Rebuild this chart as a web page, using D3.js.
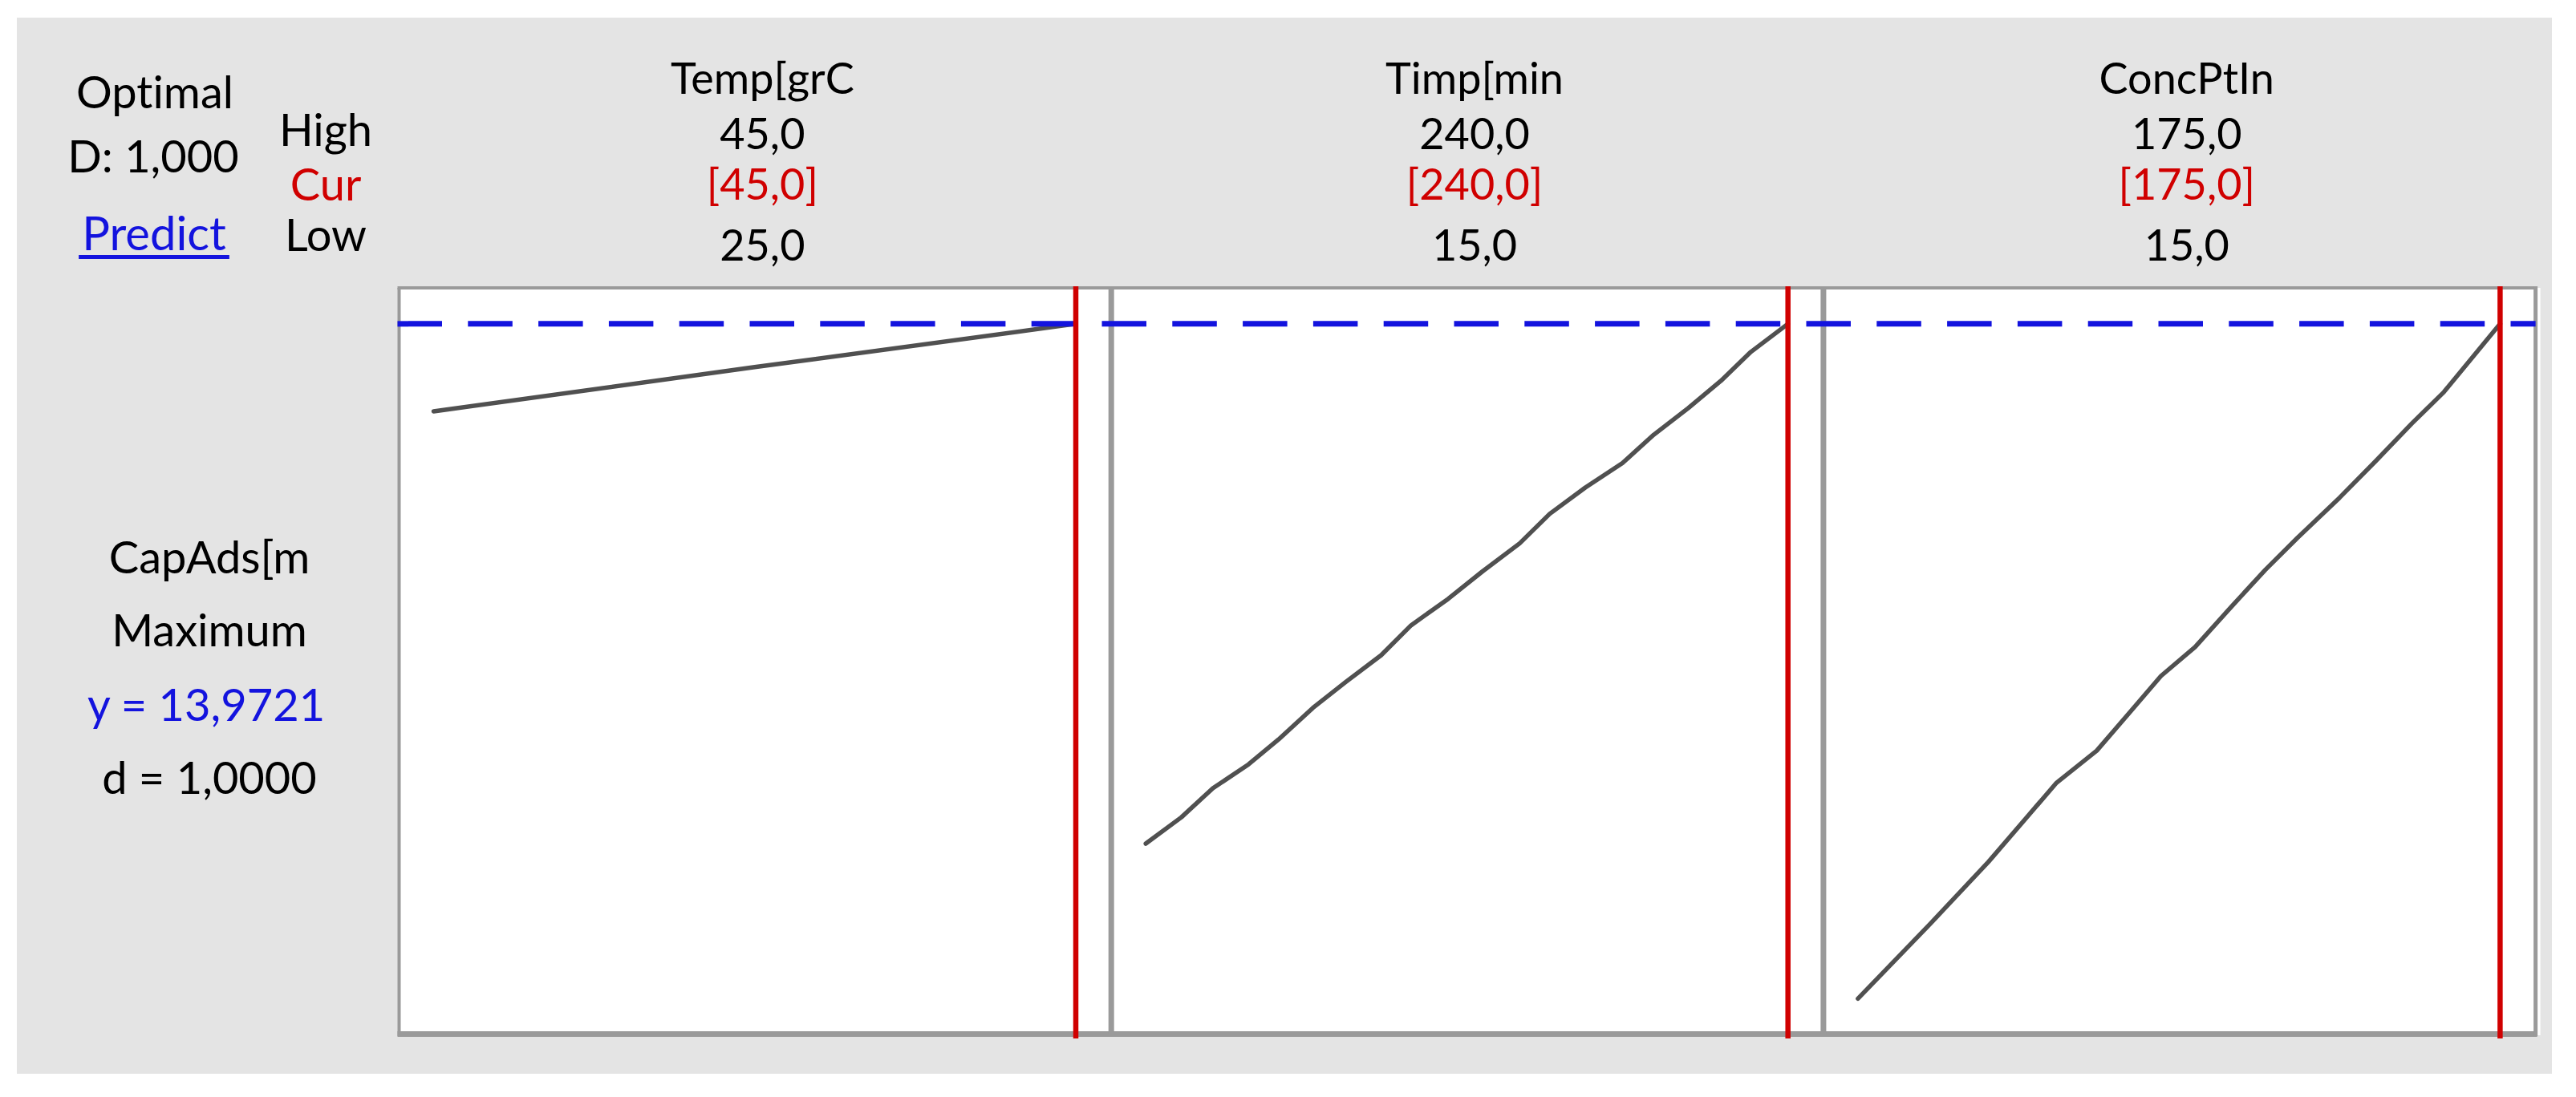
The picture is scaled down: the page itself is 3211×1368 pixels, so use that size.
<!DOCTYPE html>
<html>
<head>
<meta charset="utf-8">
<script src="https://cdn.jsdelivr.net/npm/d3@7"></script>
<style>
  html, body { margin: 0; padding: 0; background: #ffffff; }
  svg { display: block; }
  text { font-family: Lato, "Open Sans", sans-serif; font-variant-ligatures: none; font-feature-settings: "liga" 0, "clig" 0; }
</style>
</head>
<body>
<script>
// ---------- data ----------
const factorNames = ["Temp[grC", "Timp[min", "ConcPtIn"];
const highValues = [45.0, 240.0, 175.0];
const curValues = [45.0, 240.0, 175.0];
const lowValues = [25.0, 15.0, 15.0];

const responseName = "CapAds[m";
const goalName = "Maximum";
const predictedY = 13.9721;
const desirability = 1.0;
const compositeD = 1.0;

// response axis (no labels shown in original)
const yDomain = [0, 14.68];

// profile traces, one per factor
const tempX = [25, 35, 45];
const tempY = [12.25, 13.12, 13.9721];

const timpX = [15, 27.5, 38.5, 51, 61.5, 73.5, 85, 97.5, 108, 121, 133, 146, 156.5, 169, 182, 193, 205, 216.5, 227, 240];
const timpY = [3.74, 4.26, 4.83, 5.30, 5.79, 6.41, 6.92, 7.45, 8.04, 8.56, 9.10, 9.65, 10.23, 10.75, 11.23, 11.79, 12.31, 12.85, 13.42, 13.9721];

const concX = [15, 33, 47.5, 64.5, 74.5, 83, 90.5, 99, 108, 116.5, 124.5, 135, 144, 153, 161, 175];
const concY = [0.69, 2.16, 3.38, 4.94, 5.57, 6.35, 7.04, 7.61, 8.40, 9.13, 9.76, 10.55, 11.27, 12.01, 12.63, 13.9721];

const seriesX = [tempX, timpX, concX];
const seriesY = [tempY, timpY, concY];

// ---------- drawing ----------
const W = 3211, H = 1368;
const RED = "#d00000", BLUE = "#1313de", GRID = "#9a9a9a", CURVE = "#505050";
const fmt = v => d3.format(".1f")(v).replace(".", ",");
const fmt4 = v => d3.format(".4f")(v).replace(".", ",");
const fmt3 = v => d3.format(".3f")(v).replace(".", ",");

const svg = d3.select("body").append("svg").attr("width", W).attr("height", H);

svg.append("rect").attr("x", 21).attr("y", 22).attr("width", 3160).attr("height", 1317).attr("fill", "#e4e4e4");

const plotTop = 359, plotBottom = 1289;
const panelLeft = 497.5, panelW = 887.7;
const panelLefts = factorNames.map((d, i) => panelLeft + i * panelW);
const plotRight = panelLeft + 3 * panelW;

// white plotting area
svg.append("rect").attr("x", panelLeft).attr("y", plotTop).attr("width", plotRight - panelLeft + 6)
  .attr("height", plotBottom - plotTop + 2).attr("fill", "#ffffff");

const y = d3.scaleLinear().domain(yDomain).range([plotBottom, plotTop]);
const xScales = factorNames.map((d, i) => d3.scaleLinear()
  .domain([lowValues[i], highValues[i]])
  .range([panelLefts[i] + 43, panelLefts[i] + 843.5]));

// frame
svg.append("line").attr("x1", panelLeft - 2).attr("x2", plotRight + 2).attr("y1", plotTop).attr("y2", plotTop)
  .attr("stroke", GRID).attr("stroke-width", 4);
svg.append("line").attr("x1", panelLeft - 2).attr("x2", plotRight + 2).attr("y1", plotBottom + 0.5).attr("y2", plotBottom + 0.5)
  .attr("stroke", GRID).attr("stroke-width", 7);
svg.append("line").attr("x1", panelLeft).attr("x2", panelLeft).attr("y1", plotTop).attr("y2", plotBottom + 3)
  .attr("stroke", GRID).attr("stroke-width", 4);
[1, 2].forEach(i => {
  svg.append("line").attr("x1", panelLefts[i]).attr("x2", panelLefts[i]).attr("y1", plotTop).attr("y2", plotBottom)
    .attr("stroke", GRID).attr("stroke-width", 7);
});
svg.append("line").attr("x1", plotRight).attr("x2", plotRight).attr("y1", plotTop - 2).attr("y2", plotBottom + 3)
  .attr("stroke", GRID).attr("stroke-width", 5);

// curves
const line = d3.line();
factorNames.forEach((d, i) => {
  const pts = seriesX[i].map((xv, j) => [xScales[i](xv), y(seriesY[i][j])]);
  svg.append("path").attr("d", line(pts)).attr("fill", "none")
    .attr("stroke", CURVE).attr("stroke-width", 5.5).attr("stroke-linecap", "round").attr("stroke-linejoin", "round");
});

// predicted response dashed line
svg.append("line").attr("x1", panelLeft - 2).attr("x2", plotRight).attr("y1", y(predictedY)).attr("y2", y(predictedY))
  .attr("stroke", BLUE).attr("stroke-width", 7).attr("stroke-dasharray", "55.5,32.3");

// current setting lines
factorNames.forEach((d, i) => {
  const xc = xScales[i](curValues[i]);
  svg.append("line").attr("x1", xc).attr("x2", xc).attr("y1", plotTop - 2).attr("y2", plotBottom + 6)
    .attr("stroke", RED).attr("stroke-width", 6.5);
});

// header texts per factor
const colFont = 54;
factorNames.forEach((d, i) => {
  const cx = panelLefts[i] + panelW / 2 + 9;
  svg.append("text").attr("x", cx).attr("y", 117).attr("text-anchor", "middle").attr("font-size", colFont).text(d);
  svg.append("text").attr("x", cx).attr("y", 186).attr("text-anchor", "middle").attr("font-size", colFont).text(fmt(highValues[i]));
  svg.append("text").attr("x", cx).attr("y", 249).attr("text-anchor", "middle").attr("font-size", colFont).attr("fill", RED)
    .text("[" + fmt(curValues[i]) + "]");
  svg.append("text").attr("x", cx).attr("y", 325).attr("text-anchor", "middle").attr("font-size", colFont).text(fmt(lowValues[i]));
});

// row labels
const lblFont = 56;
svg.append("text").attr("x", 406).attr("y", 182).attr("text-anchor", "middle").attr("font-size", lblFont).text("High");
svg.append("text").attr("x", 406).attr("y", 250).attr("text-anchor", "middle").attr("font-size", lblFont).attr("fill", RED).text("Cur");
svg.append("text").attr("x", 406).attr("y", 313).attr("text-anchor", "middle").attr("font-size", lblFont).text("Low");

// optimal block
svg.append("text").attr("x", 193).attr("y", 135).attr("text-anchor", "middle").attr("font-size", lblFont).text("Optimal");
svg.append("text").attr("x", 191).attr("y", 215).attr("text-anchor", "middle").attr("font-size", lblFont).text("D: " + fmt3(compositeD));
const pred = svg.append("text").attr("x", 192).attr("y", 312).attr("text-anchor", "middle").attr("font-size", 58)
  .attr("fill", BLUE).text("Predict");
const pw = pred.node().getComputedTextLength();
svg.append("line").attr("x1", 192 - pw / 2 - 4).attr("x2", 192 + pw / 2 + 4).attr("y1", 320.5).attr("y2", 320.5)
  .attr("stroke", BLUE).attr("stroke-width", 5);

// response block
svg.append("text").attr("x", 261).attr("y", 715).attr("text-anchor", "middle").attr("font-size", lblFont).text(responseName);
svg.append("text").attr("x", 261).attr("y", 806).attr("text-anchor", "middle").attr("font-size", lblFont).text(goalName);
svg.append("text").attr("x", 257).attr("y", 899).attr("text-anchor", "middle").attr("font-size", lblFont).attr("fill", BLUE)
  .text("y = " + fmt4(predictedY));
svg.append("text").attr("x", 261).attr("y", 990).attr("text-anchor", "middle").attr("font-size", lblFont)
  .text("d = " + fmt4(desirability));
</script>
</body>
</html>
